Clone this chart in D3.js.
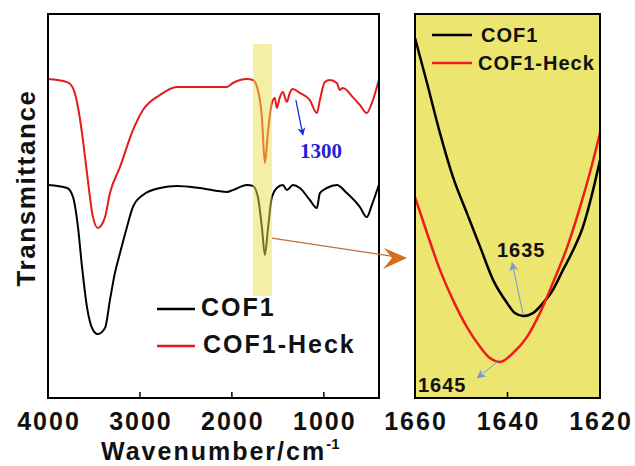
<!DOCTYPE html>
<html>
<head>
<meta charset="utf-8">
<script src="https://cdn.jsdelivr.net/npm/d3@7"></script>
<style>
  html, body { margin: 0; padding: 0; background: #ffffff; }
  svg text { font-family: "Liberation Sans", Arial, sans-serif; font-weight: bold; }
</style>
</head>
<body>
<svg id="chart" width="635" height="466"></svg>
<script>
// ---------- DATA ----------
// Full FTIR spectra (wavenumber in cm^-1, transmittance in arbitrary offset units)
const cof1Wn = [4000,3793,3728,3674,3630,3576,3511,3457,3380,3326,3272,3217,3141,3076,2967,2783,2598,2348,2054,1989,1837,1772,1717,1674,1641,1609,1565,1511,1446,1402,1337,1261,1152,1076,1043,967,859,750,609,533,478,402];
const cof1T  = [71,70,67,57,43.7,30.3,22.7,21.3,23.3,32.7,41.7,48.3,57,63.7,67.7,70,70.7,70,68.7,69.3,71,70.7,67,57,47.7,56,67,70,71,69.3,71,70,66,63.3,68.3,70,71,68.3,63.7,60.3,64.3,71];
const heckWn = [4000,3793,3728,3674,3630,3576,3511,3457,3380,3326,3217,3076,2967,2783,2598,2348,2054,1989,1837,1772,1717,1674,1641,1609,1565,1533,1511,1478,1446,1402,1370,1337,1261,1152,1076,1043,989,935,859,826,793,685,609,533,478,402];
const heckT  = [106.3,105.3,103.3,97,88.3,75,60.3,56.7,60.3,68.3,77,89.3,96,101,103.7,103.7,103.7,105,106.3,106,102.7,93.7,78.3,88.3,98.3,100,96.7,100.3,102,98.7,101.7,103,101.7,99.3,95,99.3,105.3,106,105,102.7,103.3,100.3,97.7,95,98.3,106];

// Zoomed region 1660-1620 cm^-1
const zCof1Wn = [1660,1657.4,1654.6,1651.8,1648.8,1645.9,1643.1,1640.1,1638.4,1636.6,1634.5,1632.3,1630.2,1628.0,1625.8,1623.7,1621.5,1620];
const zCof1T  = [120,105,88.3,73.7,61.7,50.3,39.3,31.7,28.3,27.3,28.3,31.7,36,42.7,49.3,57,69.3,79.3];
const zHeckWn = [1660,1657.4,1654.6,1651.8,1648.8,1645.9,1643.8,1641.6,1638.8,1635.8,1633.0,1630.2,1627.1,1624.3,1622.2,1620];
const zHeckT  = [67,55,42.7,32.7,23.7,17,13.3,12,15,20.3,28.3,38.3,50.3,63.7,75,88.3];

const seriesNames = ["COF1", "COF1-Heck"];
const leftTicks = [4000, 3000, 2000, 1000];
const rightTicks = [1660, 1640, 1620];
const highlightWn = [1772, 1565];
const highlightT = [118, 34];

// ---------- SETUP ----------
const svg = d3.select("#chart");
const xL = d3.scaleLinear().domain([4000, 400]).range([48, 379]);
const yL = d3.scaleLinear().domain([0, 128]).range([398, 14]);
const xR = d3.scaleLinear().domain([1660, 1620]).range([415, 600]);
const yR = d3.scaleLinear().domain([0, 128]).range([398, 14]);

const defs = svg.append("defs");
defs.append("clipPath").attr("id", "clipL").append("rect")
  .attr("x", 48).attr("y", 14).attr("width", 331).attr("height", 384);
defs.append("clipPath").attr("id", "clipR").append("rect")
  .attr("x", 415).attr("y", 14).attr("width", 185).attr("height", 384);

function marker(id, color, w, h) {
  defs.append("marker").attr("id", id)
    .attr("viewBox", "0 0 10 10").attr("refX", 9).attr("refY", 5)
    .attr("markerWidth", w).attr("markerHeight", h)
    .attr("markerUnits", "userSpaceOnUse")
    .attr("orient", "auto")
    .append("path").attr("d", "M0,0 L10,5 L0,10 L3,5 Z").attr("fill", color);
}
marker("arrBlue", "#1a2ed8", 8, 8);
marker("arrLight", "#7895e0", 10, 9);

// ---------- LEFT PANEL ----------
const lineL = (wn, t) => d3.line().x((d, i) => xL(wn[i])).y((d, i) => yL(t[i])).curve(d3.curveMonotoneX)(wn);
const gL = svg.append("g").attr("clip-path", "url(#clipL)");
gL.append("path").attr("d", lineL(heckWn, heckT)).attr("fill", "none").attr("stroke", "#e51a1a").attr("stroke-width", 2);
gL.append("path").attr("d", lineL(cof1Wn, cof1T)).attr("fill", "none").attr("stroke", "#000").attr("stroke-width", 2);

// highlight band
svg.append("rect")
  .attr("x", xL(highlightWn[0])).attr("y", yL(highlightT[0]))
  .attr("width", xL(highlightWn[1]) - xL(highlightWn[0]))
  .attr("height", yL(highlightT[1]) - yL(highlightT[0]))
  .attr("fill", "#e8df50").attr("opacity", 0.5);

// frame
svg.append("rect").attr("x", 48).attr("y", 14).attr("width", 331).attr("height", 384)
  .attr("fill", "none").attr("stroke", "#000").attr("stroke-width", 2);

// ticks
svg.selectAll(".tkL").data(leftTicks.slice(1)).enter().append("line")
  .attr("x1", d => xL(d)).attr("x2", d => xL(d)).attr("y1", 398).attr("y2", 392)
  .attr("stroke", "#000").attr("stroke-width", 1.5);
svg.selectAll(".tlL").data(leftTicks).enter().append("text")
  .attr("x", d => xL(d) + 1).attr("y", 430).attr("text-anchor", "middle")
  .attr("font-size", 25).attr("letter-spacing", 2).attr("fill", "#111").text(d => d);

// axis titles
const xt = svg.append("text").attr("x", 101).attr("y", 460).attr("font-size", 25).attr("letter-spacing", 2).attr("fill", "#111");
xt.append("tspan").text("Wavenumber/cm");
xt.append("tspan").attr("dy", -11).attr("font-size", 15).attr("letter-spacing", 0).text("-1");
svg.append("text").attr("transform", "translate(35,188) rotate(-90)")
  .attr("text-anchor", "middle").attr("font-size", 26).attr("letter-spacing", 1.6)
  .attr("fill", "#111").text("Transmittance");

// legend left
const legL = [{c: "#000", y: 309}, {c: "#e51a1a", y: 346}];
legL.forEach((l, i) => {
  svg.append("line").attr("x1", 157).attr("x2", 195).attr("y1", l.y).attr("y2", l.y)
    .attr("stroke", l.c).attr("stroke-width", 2.5);
  svg.append("text").attr("x", 201 + i * 2).attr("y", l.y + 7).attr("font-size", 25)
    .attr("letter-spacing", 2).attr("fill", "#111").text(seriesNames[i]);
});

// 1300 annotation
svg.append("line").attr("x1", xL(1304)).attr("y1", yL(99.3)).attr("x2", xL(1228)).attr("y2", yL(87.7))
  .attr("stroke", "#1a2ed8").attr("stroke-width", 1.3).attr("marker-end", "url(#arrBlue)");
svg.append("text").attr("x", 300).attr("y", 158).attr("font-size", 21)
  .style("font-family", "'Liberation Serif', 'Times New Roman', serif")
  .attr("fill", "#1e22d6").text("1300");

// ---------- RIGHT PANEL ----------
svg.append("rect").attr("x", 415).attr("y", 14).attr("width", 185).attr("height", 384).attr("fill", "#ece56f");
const lineR = (wn, t) => d3.line().x((d, i) => xR(wn[i])).y((d, i) => yR(t[i])).curve(d3.curveMonotoneX)(wn);
const gR = svg.append("g").attr("clip-path", "url(#clipR)");
gR.append("path").attr("d", lineR(zCof1Wn, zCof1T)).attr("fill", "none").attr("stroke", "#000").attr("stroke-width", 2.5);
gR.append("path").attr("d", lineR(zHeckWn, zHeckT)).attr("fill", "none").attr("stroke", "#ee1c1c").attr("stroke-width", 2.5);

svg.append("rect").attr("x", 415).attr("y", 14).attr("width", 185).attr("height", 384)
  .attr("fill", "none").attr("stroke", "#000").attr("stroke-width", 2);
svg.append("line").attr("x1", xR(1640)).attr("x2", xR(1640)).attr("y1", 398).attr("y2", 392)
  .attr("stroke", "#000").attr("stroke-width", 1.5);
svg.selectAll(".tlR").data(rightTicks).enter().append("text")
  .attr("x", d => xR(d) + 1).attr("y", 430).attr("text-anchor", "middle")
  .attr("font-size", 25).attr("letter-spacing", 2).attr("fill", "#111").text(d => d);

// legend right
const legR = [{c: "#000", y: 35}, {c: "#ee1c1c", y: 63}];
legR.forEach((l, i) => {
  svg.append("line").attr("x1", 432).attr("x2", 472).attr("y1", l.y).attr("y2", l.y)
    .attr("stroke", l.c).attr("stroke-width", 2.5);
  svg.append("text").attr("x", 481 - i * 3).attr("y", l.y + 7).attr("font-size", 20)
    .attr("letter-spacing", 1).attr("fill", "#111").text(seriesNames[i]);
});

// peak annotations
svg.append("line").attr("x1", xR(1636.6)).attr("y1", yR(27.7)).attr("x2", xR(1639)).attr("y2", yR(45))
  .attr("stroke", "#7895e0").attr("stroke-width", 1).attr("marker-end", "url(#arrLight)");
svg.append("text").attr("x", 497).attr("y", 257).attr("font-size", 20).attr("letter-spacing", 1)
  .attr("fill", "#111").text("1635");
svg.append("line").attr("x1", xR(1642)).attr("y1", yR(12.3)).attr("x2", xR(1646.5)).attr("y2", yR(6.7))
  .attr("stroke", "#7895e0").attr("stroke-width", 1).attr("marker-end", "url(#arrLight)");
svg.append("text").attr("x", 418).attr("y", 392).attr("font-size", 20).attr("letter-spacing", 1)
  .attr("fill", "#111").text("1645");

// connecting arrow
const sx = xL(1565), sy = yL(53.3);
const tx = xR(1660) - 8, ty = yR(46.7);
svg.append("line").attr("x1", sx).attr("y1", sy).attr("x2", tx - 14).attr("y2", ty - 1.5)
  .attr("stroke", "#c0703a").attr("stroke-width", 1.2);
svg.append("path")
  .attr("d", `M${tx},${ty} L${tx - 23},${ty - 10} L${tx - 15},${ty} L${tx - 24},${ty + 11} Z`)
  .attr("fill", "#d46f1e");
</script>
</body>
</html>
